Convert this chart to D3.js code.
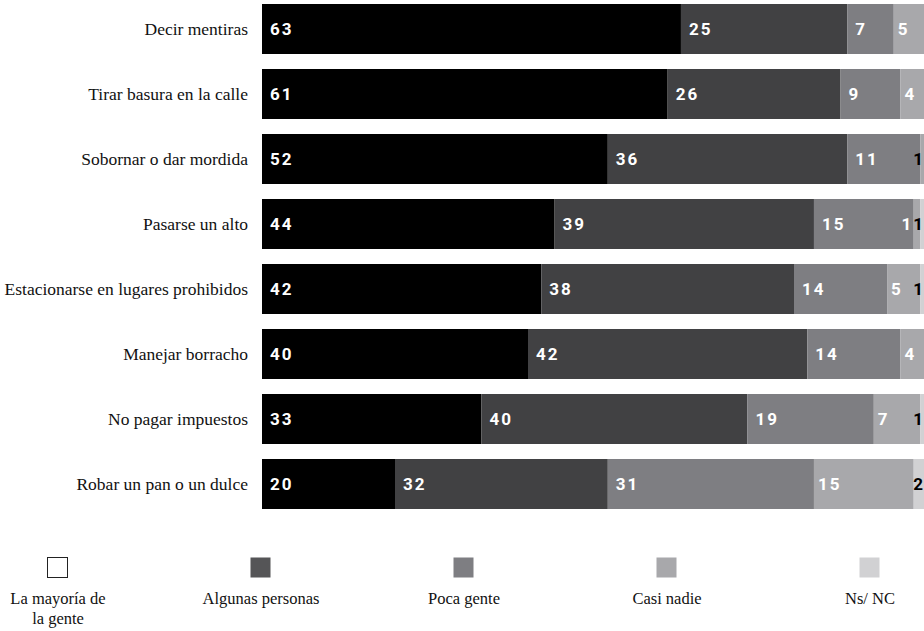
<!DOCTYPE html>
<html>
<head>
<meta charset="utf-8">
<script src="https://cdn.jsdelivr.net/npm/d3@7"></script>
<style>
  body { margin: 0; background: #fff; overflow: hidden; }
</style>
</head>
<body>
<div id="chart"></div>
<script>
const categories = [
  'Decir mentiras', 'Tirar basura en la calle', 'Sobornar o dar mordida',
  'Pasarse un alto', 'Estacionarse en lugares prohibidos', 'Manejar borracho',
  'No pagar impuestos', 'Robar un pan o un dulce'
];
const seriesNames = ['La mayoría de la gente', 'Algunas personas', 'Poca gente', 'Casi nadie', 'Ns/ NC'];
const mayoria = [63, 61, 52, 44, 42, 40, 33, 20];
const algunas = [25, 26, 36, 39, 38, 42, 40, 32];
const poca = [7, 9, 11, 15, 14, 14, 19, 31];
const casiNadie = [5, 4, 1, 1, 5, 4, 7, 15];
const nsnc = [0, 0, 0, 1, 1, 0, 1, 2];

const colors = ['#000000', '#414143', '#7e7e82', '#a8a8ab', '#d1d1d3'];
const legendFill = ['#ffffff', '#555557', '#7e7e82', '#a8a8ab', '#d1d1d3'];

const width = 924, height = 631;
const margin = { top: 4, left: 262 };

const rows = categories.map((c, i) => ({
  name: c,
  values: [mayoria[i], algunas[i], poca[i], casiNadie[i], nsnc[i]]
}));

const svg = d3.select('#chart')
  .append('svg')
  .attr('width', width)
  .attr('height', height);

const x = d3.scaleLinear()
  .domain([0, 100])
  .range([margin.left, margin.left + 665]);

// 65px per row, bars 50px tall
const y = d3.scaleBand()
  .domain(categories)
  .range([margin.top, margin.top + 65 * categories.length - 15])
  .paddingInner(15 / 65)
  .paddingOuter(0);

// category labels
svg.append('g')
  .selectAll('text')
  .data(categories)
  .join('text')
  .attr('x', 248)
  .attr('y', d => y(d) + y.bandwidth() / 2)
  .attr('dy', '0.35em')
  .attr('text-anchor', 'end')
  .attr('font-family', '"Liberation Serif", serif')
  .attr('font-size', 17.5)
  .attr('fill', '#111')
  .text(d => d);

// stacked segments
const segs = [];
rows.forEach(r => {
  let acc = 0;
  r.values.forEach((v, k) => {
    segs.push({ row: r.name, k, v, x0: acc, x1: acc + v });
    acc += v;
  });
});

const g = svg.append('g');
g.selectAll('rect')
  .data(segs.filter(d => d.v > 0))
  .join('rect')
  .attr('x', d => x(d.x0))
  .attr('y', d => y(d.row))
  .attr('width', d => x(d.x1) - x(d.x0))
  .attr('height', y.bandwidth())
  .attr('fill', d => colors[d.k]);

const labels = g.selectAll('text')
  .data(segs.filter(d => d.v > 0))
  .join('text')
  .attr('y', d => y(d.row) + y.bandwidth() / 2)
  .attr('dy', '0.36em')
  .attr('font-family', 'Roboto, "DejaVu Sans", sans-serif')
  .attr('font-weight', 'bold')
  .attr('font-size', 17)
  .attr('letter-spacing', 2)
  .text(d => d.v);

// push labels that would run off the right edge back inside, right to left
labels.each(function (d) {
  d.lx = x(d.x0) + (d.k >= 3 ? 4 : 8);
  d.w = this.getComputedTextLength();
});
rows.forEach(r => {
  let limit = width + 1;
  labels.filter(d => d.row === r.name).data()
    .sort((a, b) => b.k - a.k)
    .forEach(d => {
      d.lx = Math.min(d.lx, limit - d.w);
      limit = d.lx;
    });
});
labels
  .attr('x', d => d.lx)
  .attr('fill', d => (d.k === 4 || d.lx > 910) ? '#000' : '#fff');

// legend
const lx = d3.scalePoint()
  .domain(seriesNames)
  .range([58, 870]);

const legend = svg.append('g')
  .selectAll('g')
  .data(seriesNames)
  .join('g')
  .attr('transform', d => `translate(${lx(d)}, 557)`);

legend.append('rect')
  .attr('x', -10.5)
  .attr('y', 0.5)
  .attr('width', 20)
  .attr('height', 20)
  .attr('fill', (d, i) => legendFill[i])
  .attr('stroke', (d, i) => i === 0 ? '#222' : 'none')
  .attr('stroke-width', 1);

legend.append('text')
  .attr('text-anchor', 'middle')
  .attr('font-family', '"Liberation Serif", serif')
  .attr('font-size', 16.5)
  .attr('fill', '#111')
  .each(function (d) {
    const lines = d === 'La mayoría de la gente' ? ['La mayoría de', 'la gente'] : [d];
    d3.select(this).selectAll('tspan')
      .data(lines)
      .join('tspan')
      .attr('x', 0)
      .attr('y', (l, j) => 47 + j * 20)
      .text(l => l);
  });
</script>
</body>
</html>
